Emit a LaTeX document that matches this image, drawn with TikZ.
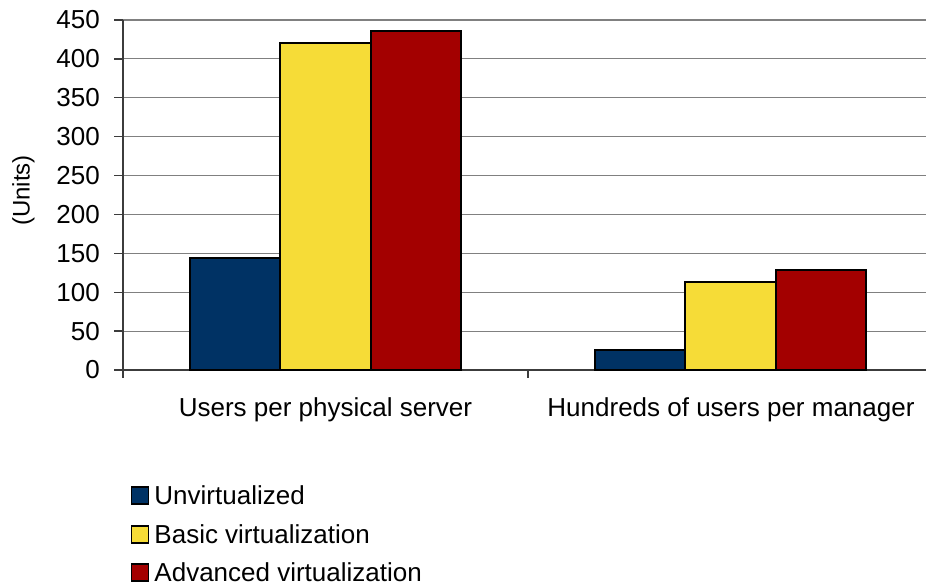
\documentclass[tikz,border=0pt]{standalone}
\usepackage{fontspec}
\setmainfont{Liberation Sans}
\usetikzlibrary{positioning}

\definecolor{unvirt}{RGB}{0,50,100}
\definecolor{basicvirt}{RGB}{246,220,55}
\definecolor{advvirt}{RGB}{163,0,0}
\definecolor{gridgray}{RGB}{128,128,128}
\definecolor{axisgray}{RGB}{60,60,60}

\begin{document}
\begin{tikzpicture}[x=1pt,y=1pt,
  bar/.style={draw=black,line width=2pt},
  gridline/.style={gridgray,line width=1.2pt},
  axisline/.style={axisgray,line width=1.4pt},
  ticklabel/.style={anchor=east,inner sep=0pt,font=\fontsize{26}{31}\selectfont},
  catlabel/.style={anchor=base,inner sep=0pt,font=\fontsize{26}{31}\selectfont},
  legkey/.style={draw=black,line width=1.5pt,minimum size=17pt,inner sep=0pt},
  legtext/.style={anchor=west,inner sep=0pt,text height=18.6pt,text depth=0pt,font=\fontsize{26}{31}\selectfont}]

\useasboundingbox (0,0) rectangle (926,586);

\begin{scope}[shift={(123,216)},y=0.7778pt]

% Gridlines
\foreach \v in {50,100,...,400}
  \draw[gridline] (0,\v) -- (803,\v);
\draw[gridline,line width=2.2pt] (0,450) -- (803,450);

% Axes
\draw[axisline] (0,-10) -- (0,450);
\draw[axisline] (0,0) -- (803,0);
\draw[axisline] (405,0) -- (405,-10);

% Ticks and tick labels
\foreach \v in {0,50,...,450} {
  \draw[axisline] (-9,\v) -- (0,\v);
  \node[ticklabel] (tick\v) at (-23,\v) {\v};
}

% Users per physical server
\draw[bar,fill=unvirt] (66.75,0) rectangle (157.25,144);
\draw[bar,fill=basicvirt] (157.25,0) rectangle (247.75,421);
\draw[bar,fill=advvirt] (247.75,0) rectangle (338.25,436);

% Hundreds of users per manager
\draw[bar,fill=unvirt] (471.75,0) rectangle (562.25,26);
\draw[bar,fill=basicvirt] (562.25,0) rectangle (652.75,113);
\draw[bar,fill=advvirt] (652.75,0) rectangle (743.25,129);

% Category labels
\node[catlabel] (cat1) at (202.5,-60) {Users per physical server};
\node[catlabel] (cat2) at (608,-60) {Hundreds of users per manager};

\end{scope}

% Axis title
\node[rotate=90,inner sep=0pt,font=\fontsize{24}{28}\selectfont] (ylabel) at (23.5,395.5) {(Units)};

% Legend
\node[legkey,fill=unvirt] (key1) at (140,90.5) {};
\node[legtext,right=5pt of key1] (leg1) {Unvirtualized};
\node[legkey,fill=basicvirt] (key2) at (140,51.5) {};
\node[legtext,right=5pt of key2] (leg2) {Basic virtualization};
\node[legkey,fill=advvirt] (key3) at (140,13.5) {};
\node[legtext,right=5pt of key3] (leg3) {Advanced virtualization};

\end{tikzpicture}
\end{document}
